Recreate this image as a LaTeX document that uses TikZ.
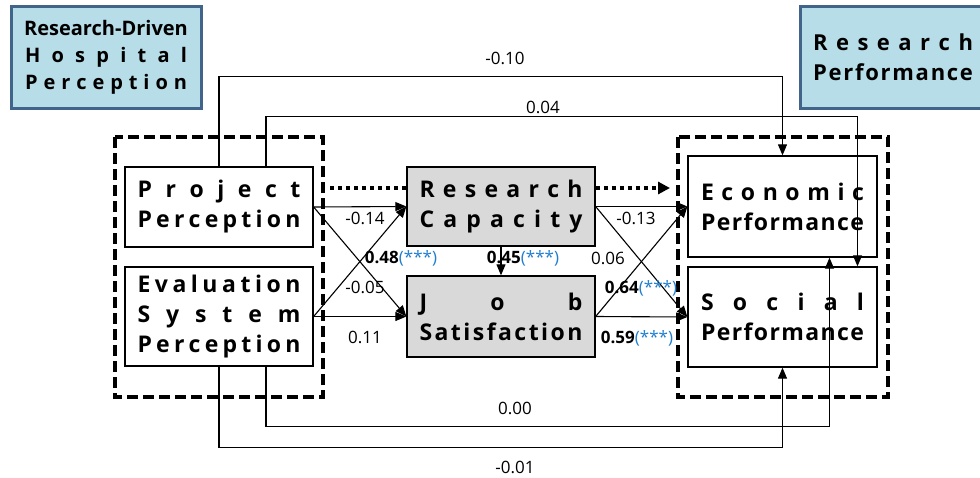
\documentclass[tikz,border=0pt]{standalone}
\usepackage{fontspec}
\setmainfont{Open Sans}
\usetikzlibrary{arrows.meta,positioning}
\definecolor{boxblue}{HTML}{B7DEE8}
\definecolor{edgeblue}{HTML}{41648A}
\definecolor{boxgray}{HTML}{D9D9D9}
\definecolor{starblue}{HTML}{1F7ED0}

% justified (spread) line of letters
\ExplSyntaxOn
\NewDocumentCommand \spreadtxt { O{163pt} m }
  { \makebox [#1] [s] { \tl_map_inline:nn {#2} { ##1 \hfil } \unskip } }
\ExplSyntaxOff
\newcommand\sig[1]{\textbf{#1}\textcolor{starblue}{(***)}}

\begin{document}
\begin{tikzpicture}[x=1pt,y=-1pt,
	every node/.style={font=\fontsize{17}{20}\selectfont},
	box/.style={draw,line width=1.3pt,minimum width=188pt,align=center,inner sep=0pt,font=\fontsize{23}{30}\selectfont\bfseries},
	greybox/.style={box,fill=boxgray},
	bluebox/.style={draw=edgeblue,fill=boxblue,line width=3pt,align=center,inner sep=0pt},
	dashbox/.style={line width=3.5pt,dash pattern=on 11pt off 5pt},
	arr/.style={line width=1.1pt,-{Triangle[length=11pt,width=9pt]}},
	dotarr/.style={line width=4pt,dash pattern=on 4pt off 4pt}]
	\useasboundingbox (0,0) rectangle (980,477);
	\clip (0,0) rectangle (980,477);

	% group boxes
	\node[bluebox,minimum width=190pt,minimum height=102pt,font=\fontsize{20}{27}\selectfont\bfseries] (hosp) at (106,57)
		{Research-Driven\\\spreadtxt[162pt]{Hospital}\\\spreadtxt[162pt]{Perception}};
	\node[bluebox,minimum width=186pt,minimum height=102pt,font=\fontsize{22}{30}\selectfont\bfseries] (perf) at (893,57)
		{\spreadtxt[160pt]{Research}\\\spreadtxt[160pt]{Performance}};
	\draw[dashbox] (115,137) rectangle (323,397);
	\draw[dashbox] (678,137) rectangle (888,397);

	% variables
	\node[box,minimum height=80pt] (pp) at (219,207) {\spreadtxt{Project}\\\spreadtxt{Perception}};
	\node[box,minimum height=99pt] (esp) at (219,316.5) {\spreadtxt{Evaluation}\\\spreadtxt{System}\\\spreadtxt{Perception}};
	\node[greybox,minimum height=79pt] (rc) at (501,206.5) {\spreadtxt{Research}\\\spreadtxt{Capacity}};
	\node[greybox,minimum height=81pt] (js) at (501,316.5) {\spreadtxt{Job}\\\spreadtxt{Satisfaction}};
	\node[box,minimum width=189pt,minimum height=101pt] (ep) at (782.5,206.5) {\spreadtxt{Economic}\\\spreadtxt{Performance}};
	\node[box,minimum width=189pt,minimum height=100pt] (sp) at (782.5,317) {\spreadtxt{Social}\\\spreadtxt{Performance}};

	% dotted group link
	\coordinate (dl) at (330,188);
	\coordinate (dr) at (670,188);
	\draw[dotarr] (dl) -- (dl -| rc.west);
	\draw[dotarr,-{Triangle[length=12pt,width=12pt]}] (rc.east |- dl) -- (dr);

	% paths
	\draw[arr] (pp.east) -- (rc.west);
	\draw[arr] (pp.east) -- (js.west);
	\draw[arr] (esp.east) -- (js.west);
	\draw[arr] (esp.east) -- (rc.west);
	\draw[arr] (rc.east) -- (ep.west);
	\draw[arr] (rc.east) -- (sp.west);
	\draw[arr] (js.east) -- (sp.west);
	\draw[arr] (js.east) -- (ep.west);
	\draw[arr] (rc.south) -- (js.north);

	\draw[arr] (pp.north) -- ++(0,-90) -| (ep.north);
	\draw[arr] ([xshift=47pt]pp.north) -- ++(0,-50) -| ([xshift=75pt]sp.north);
	\draw[arr] ([xshift=47pt]esp.south) -- ++(0,60) -| ([xshift=47pt]ep.south);
	\draw[arr] (esp.south) -- ++(0,81) -| (sp.south);

	% coefficients
	\node (c1) at (505,58) {-0.10};
	\node (c2) at (543,107) {0.04};
	\node (c3) at (515,408) {0.00};
	\node (c4) at (515,467) {-0.01};
	\node (c5) at (365,218) {-0.14};
	\node (c6) at (401,258) {\sig{0.48}};
	\node (c7) at (365,287) {-0.05};
	\node (c8) at (365,337) {0.11};
	\node (c9) at (523,258) {\sig{0.45}};
	\node (c10) at (636,218) {-0.13};
	\node (c11) at (608,258) {0.06};
	\node (c12) at (641,288) {\sig{0.64}};
	\node (c13) at (637,338) {\sig{0.59}};
\end{tikzpicture}
\end{document}
